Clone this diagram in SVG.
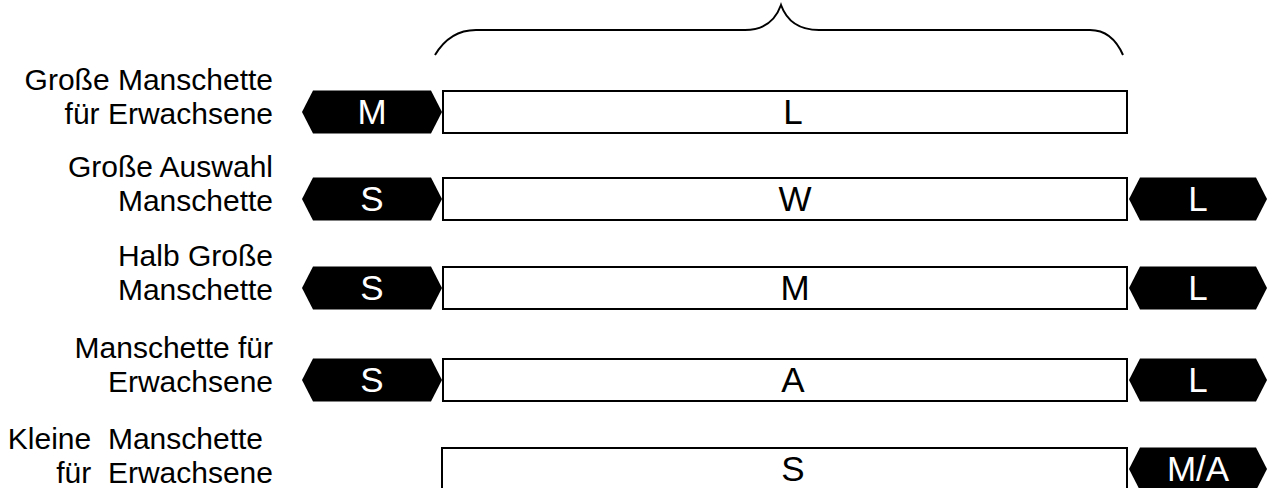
<svg xmlns="http://www.w3.org/2000/svg" width="1269" height="488" viewBox="0 0 1269 488">
<style>
.lbl{font-family:"Liberation Sans",Arial,sans-serif;font-size:30px;fill:#000;text-anchor:end;white-space:pre}
.box{fill:#fff;stroke:#000;stroke-width:2}
.hex{fill:#000}
.bt{font-family:"Liberation Sans",Arial,sans-serif;font-size:35px;fill:#000;text-anchor:middle}
.ht{font-family:"Liberation Sans",Arial,sans-serif;font-size:35px;fill:#fff;text-anchor:middle}
</style>
<rect width="1269" height="488" fill="#fff"/>
<g id="connectors">
<path id="brace" d="M435,55 Q450,30 476,30 L745,30 Q772,30 781,5 Q790,30 819,30 L1090,30 Q1112,30 1123,55" fill="none" stroke="#000" stroke-width="2"/>
</g>
<g id="row1">
<text class="lbl" x="273" y="90">Große Manschette</text>
<text class="lbl" x="273" y="124">für Erwachsene</text>
<polygon class="hex" points="302,112 313,90.5 431,90.5 442,112 431,133.5 313,133.5"/>
<text class="ht" x="372" y="124">M</text>
<rect class="box" x="443" y="91" width="684" height="42"/>
<text class="bt" x="793" y="124">L</text>
</g>
<g id="row2">
<text class="lbl" x="273" y="177">Große Auswahl</text>
<text class="lbl" x="273" y="211">Manschette</text>
<polygon class="hex" points="302,199 313,177.5 431,177.5 442,199 431,220.5 313,220.5"/>
<text class="ht" x="372" y="211">S</text>
<rect class="box" x="443" y="178" width="684" height="42"/>
<text class="bt" x="795" y="211">W</text>
<polygon class="hex" points="1129,199 1140,177.5 1256,177.5 1267,199 1256,220.5 1140,220.5"/>
<text class="ht" x="1198" y="211">L</text>
</g>
<g id="row3">
<text class="lbl" x="273" y="266">Halb Große</text>
<text class="lbl" x="273" y="300">Manschette</text>
<polygon class="hex" points="302,288 313,266.5 431,266.5 442,288 431,309.5 313,309.5"/>
<text class="ht" x="372" y="300">S</text>
<rect class="box" x="443" y="267" width="684" height="42"/>
<text class="bt" x="795" y="300">M</text>
<polygon class="hex" points="1129,288 1140,266.5 1256,266.5 1267,288 1256,309.5 1140,309.5"/>
<text class="ht" x="1198" y="300">L</text>
</g>
<g id="row4">
<text class="lbl" x="273" y="358">Manschette für</text>
<text class="lbl" x="273" y="392">Erwachsene</text>
<polygon class="hex" points="302,380 313,358.5 431,358.5 442,380 431,401.5 313,401.5"/>
<text class="ht" x="372" y="392">S</text>
<rect class="box" x="443" y="359" width="684" height="42"/>
<text class="bt" x="793" y="392">A</text>
<polygon class="hex" points="1129,380 1140,358.5 1256,358.5 1267,380 1256,401.5 1140,401.5"/>
<text class="ht" x="1198" y="392">L</text>
</g>
<g id="row5">
<text class="lbl" x="263" y="449">Kleine  Manschette</text>
<text class="lbl" x="273" y="483">für  Erwachsene</text>
<rect class="box" x="442" y="448" width="685" height="42"/>
<text class="bt" x="793" y="481">S</text>
<polygon class="hex" points="1129,469 1140,447.5 1256,447.5 1267,469 1256,490.5 1140,490.5"/>
<text class="ht" x="1198" y="481">M/A</text>
</g>
</svg>
